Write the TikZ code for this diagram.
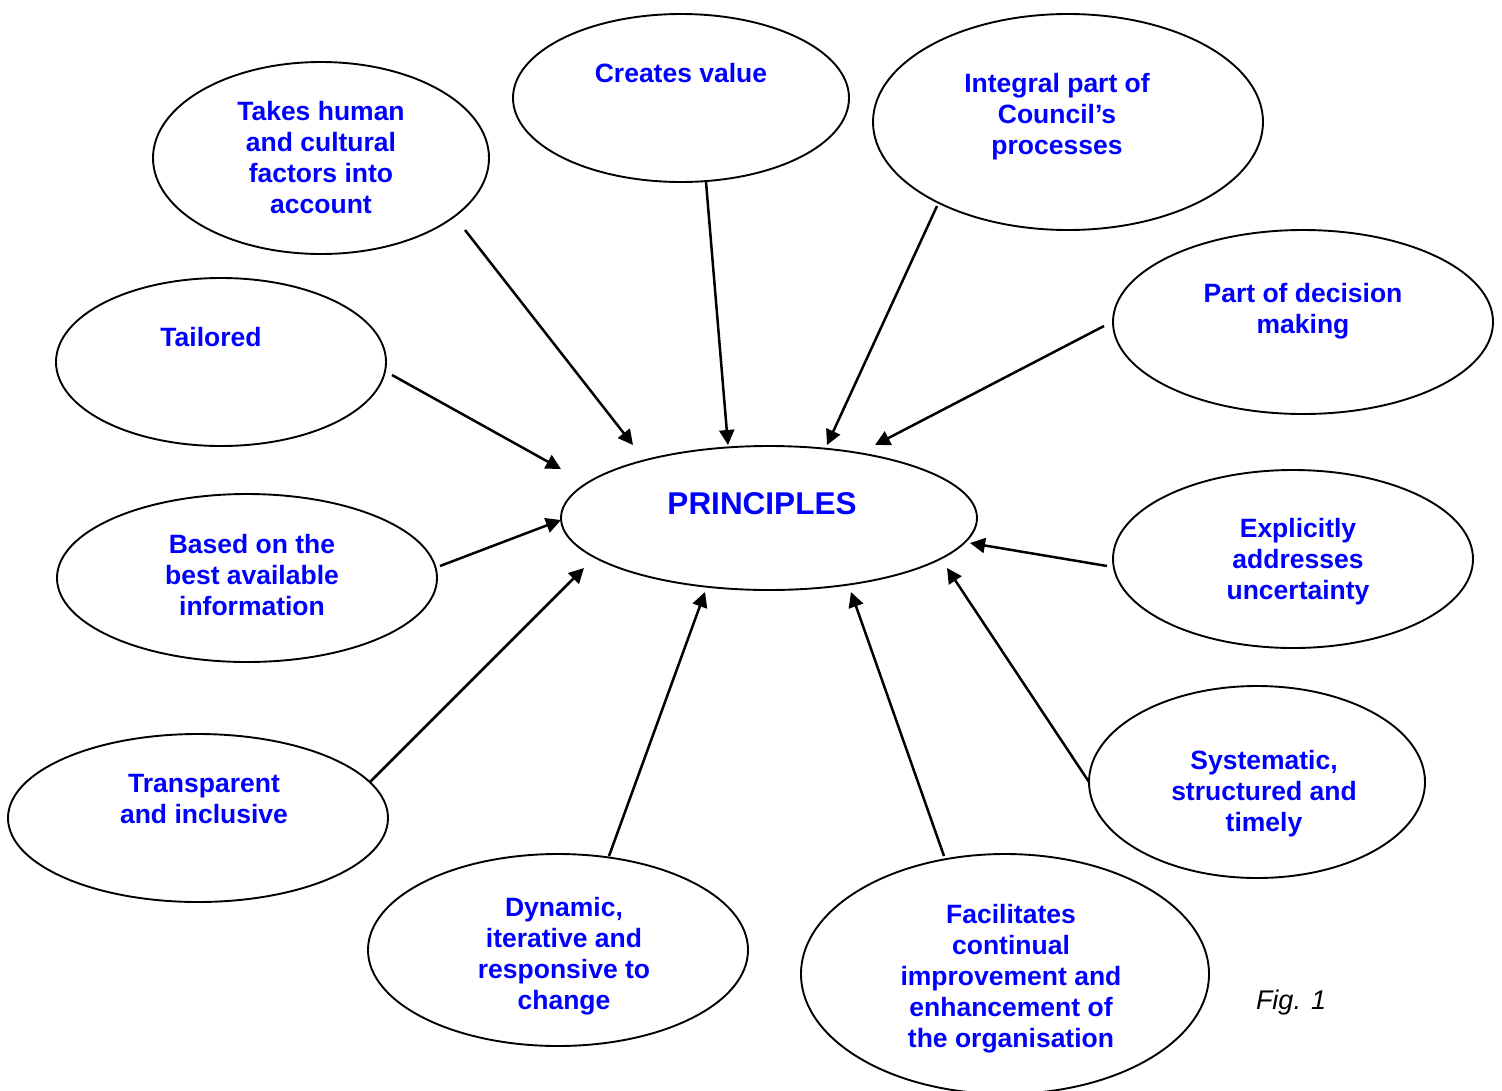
\documentclass[tikz,border=0pt]{standalone}
\usepackage{fontspec}
\setmainfont{Liberation Sans}
\usetikzlibrary{shapes.geometric,arrows.meta}
\definecolor{labblue}{RGB}{0,0,255}
\begin{document}
\begin{tikzpicture}[x=1pt,y=-1pt,
  oval/.style={ellipse,draw,line width=1.9pt,inner sep=0pt,fill=white},
  lab/.style={text=labblue,font=\bfseries\fontsize{26.5}{31}\selectfont,align=center,anchor=north,inner sep=0pt},
  arr/.style={line width=2.5pt,-{Triangle[length=15pt,width=15pt]}}]
\useasboundingbox (0,0) rectangle (1502,1090);
\clip (0,0) rectangle (1502,1090);
% ellipses
\node[oval,minimum width=336pt,minimum height=192pt] (human) at (321,158) {};
\node[oval,minimum width=336pt,minimum height=168pt] (value) at (681,98) {};
\node[oval,minimum width=390pt,minimum height=216pt] (integral) at (1068,122) {};
\node[oval,minimum width=380pt,minimum height=184pt] (decision) at (1303,322) {};
\node[oval,minimum width=330pt,minimum height=168pt] (tailored) at (221,362) {};
\node[oval,minimum width=416pt,minimum height=144pt] (principles) at (769,518) {};
\node[oval,minimum width=380pt,minimum height=168pt] (based) at (247,578) {};
\node[oval,minimum width=360pt,minimum height=178pt] (explicit) at (1293,559) {};
\node[oval,minimum width=380pt,minimum height=168pt] (transp) at (198,818) {};
\node[oval,minimum width=336pt,minimum height=192pt] (system) at (1257,782) {};
\node[oval,minimum width=380pt,minimum height=192pt] (dynamic) at (558,950) {};
\node[oval,minimum width=408pt,minimum height=240pt] (facil) at (1005,974) {};
% labels
\node[lab] (thuman) at (321,101) {Takes human\\and cultural\\factors into\\account};
\node[lab] (tvalue) at (681,63) {Creates value};
\node[lab] (tintegral) at (1057,73) {Integral part of\\Council’s\\processes};
\node[lab] (tdecision) at (1303,283) {Part of decision\\making};
\node[lab] (ttailored) at (211,327) {Tailored};
\node[text=labblue,font=\bfseries\fontsize{31.5}{36}\selectfont,inner sep=0pt] (tprinciples) at (762,504) {PRINCIPLES};
\node[lab] (tbased) at (252,534) {Based on the\\best available\\information};
\node[lab] (texplicit) at (1298,518) {Explicitly\\addresses\\uncertainty};
\node[lab] (ttransp) at (204,774) {Transparent\\and inclusive};
\node[lab] (tsystem) at (1264,750) {Systematic,\\structured and\\timely};
\node[lab] (tdynamic) at (564,897) {Dynamic,\\iterative and\\responsive to\\change};
\node[lab] (tfacil) at (1011,904) {Facilitates\\continual\\improvement and\\enhancement of\\the organisation};
\node[font=\itshape\fontsize{27}{32}\selectfont,inner sep=0pt] (fig) at (1291,1003) {Fig. 1};
% connector ends
\coordinate (s1) at (465,230);  \coordinate (e1) at (633,445);
\coordinate (s2) at (706,182);  \coordinate (e2) at (728,445);
\coordinate (s3) at (937,206);  \coordinate (e3) at (827,445);
\coordinate (s4) at (1104,326); \coordinate (e4) at (875,445);
\coordinate (s5) at (392,375);  \coordinate (e5) at (561,469);
\coordinate (s6) at (440,566);  \coordinate (e6) at (561,520);
\coordinate (s7) at (1107,566); \coordinate (e7) at (970,543);
\coordinate (s8) at (370,782);  \coordinate (e8) at (584,568);
\coordinate (s9) at (609,856);  \coordinate (e9) at (705,592);
\coordinate (s10) at (944,856); \coordinate (e10) at (851,592);
\coordinate (s11) at (1089,782);\coordinate (e11) at (947,568);
\foreach \i in {1,...,11} {\draw[arr] (s\i) -- (e\i);}
\end{tikzpicture}
\end{document}
